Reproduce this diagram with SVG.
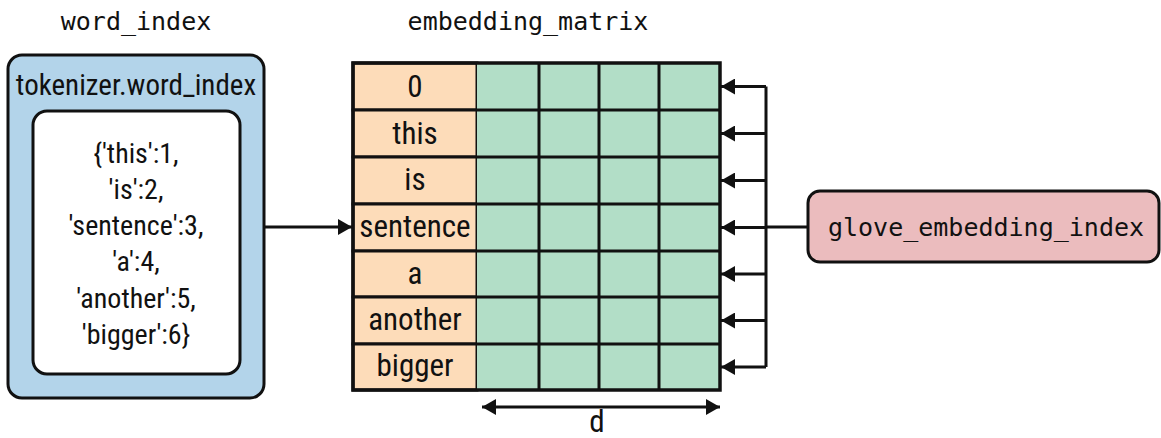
<svg xmlns="http://www.w3.org/2000/svg" width="1161" height="438" viewBox="0 0 1161 438">
<style>
.mono{font-family:"DejaVu Sans Mono","Liberation Mono",monospace;font-size:25px;fill:#111}
.lbl{font-family:"Liberation Sans Narrow","Roboto Condensed","Liberation Sans",sans-serif;font-size:31px;fill:#111;text-anchor:middle}
.ttl{font-family:"Liberation Sans Narrow","Roboto Condensed","Liberation Sans",sans-serif;font-size:29px;fill:#111;text-anchor:middle}
.dict{font-family:"Liberation Sans Narrow","Roboto Condensed","Liberation Sans",sans-serif;font-size:28px;fill:#111;text-anchor:middle}
.key{fill:#fddcb9;stroke:#111;stroke-width:3}
.ln{stroke:#111;stroke-width:3;fill:none}
</style>
<defs>
<marker id="ah" viewBox="0 0 14 16" refX="14" refY="8" markerWidth="14" markerHeight="16" markerUnits="userSpaceOnUse" orient="auto-start-reverse">
<path d="M0,0 L14,8 L0,16 z" fill="#111"/>
</marker>
</defs>

<text class="mono" x="136" y="30" text-anchor="middle">word_index</text>
<text class="mono" x="528" y="30" text-anchor="middle">embedding_matrix</text>

<g id="word_index">
<rect x="8" y="55" width="256" height="343" rx="14" fill="#b3d4ea" stroke="#111" stroke-width="3"/>
<text class="ttl" x="136" y="95">tokenizer.word_index</text>
<rect x="33" y="111" width="207" height="263" rx="14" fill="#fff" stroke="#111" stroke-width="3"/>
<text class="dict" x="136" y="163">{'this':1,</text>
<text class="dict" x="136" y="199">'is':2,</text>
<text class="dict" x="136" y="235">'sentence':3,</text>
<text class="dict" x="136" y="271">'a':4,</text>
<text class="dict" x="136" y="308">'another':5,</text>
<text class="dict" x="136" y="344">'bigger':6}</text>
</g>

<g id="embedding_matrix">
<rect class="key" x="353" y="63" width="124" height="47"/>
<rect class="key" x="353" y="110" width="124" height="47"/>
<rect class="key" x="353" y="157" width="124" height="47"/>
<rect class="key" x="353" y="204" width="124" height="47"/>
<rect class="key" x="353" y="251" width="124" height="46"/>
<rect class="key" x="353" y="297" width="124" height="47"/>
<rect class="key" x="353" y="344" width="124" height="46"/>
<rect x="477" y="63" width="243" height="327" fill="#b2dec7"/>
<path class="ln" d="M477,110H720M477,157H720M477,204H720M477,251H720M477,297H720M477,344H720M539,63V390M599,63V390M659,63V390"/>
<rect x="353" y="63" width="367" height="327" fill="none" stroke="#111" stroke-width="3.5"/>
<text class="lbl" x="415" y="97">0</text>
<text class="lbl" x="415" y="144">this</text>
<text class="lbl" x="415" y="190">is</text>
<text class="lbl" x="415" y="237">sentence</text>
<text class="lbl" x="415" y="284">a</text>
<text class="lbl" x="415" y="330">another</text>
<text class="lbl" x="415" y="376">bigger</text>
</g>

<g id="glove_embedding_index">
<rect x="808" y="191" width="351" height="71" rx="12" fill="#ebbcbe" stroke="#111" stroke-width="3"/>
<text class="mono" x="986" y="236" text-anchor="middle">glove_embedding_index</text>
</g>

<g id="connectors">
<line class="ln" x1="264" y1="227" x2="352" y2="227" marker-end="url(#ah)"/>
<line class="ln" x1="808" y1="227" x2="766" y2="227"/>
<path class="ln" d="M766,86.5V367"/>
<line class="ln" x1="766" y1="86.5" x2="721" y2="86.5" marker-end="url(#ah)"/>
<line class="ln" x1="766" y1="133.5" x2="721" y2="133.5" marker-end="url(#ah)"/>
<line class="ln" x1="766" y1="180.5" x2="721" y2="180.5" marker-end="url(#ah)"/>
<line class="ln" x1="766" y1="227.5" x2="721" y2="227.5" marker-end="url(#ah)"/>
<line class="ln" x1="766" y1="274" x2="721" y2="274" marker-end="url(#ah)"/>
<line class="ln" x1="766" y1="320.5" x2="721" y2="320.5" marker-end="url(#ah)"/>
<line class="ln" x1="766" y1="367" x2="721" y2="367" marker-end="url(#ah)"/>
<line class="ln" x1="482" y1="407" x2="720" y2="407" marker-start="url(#ah)" marker-end="url(#ah)"/>
<text class="lbl" x="597" y="432">d</text>
</g>
</svg>
